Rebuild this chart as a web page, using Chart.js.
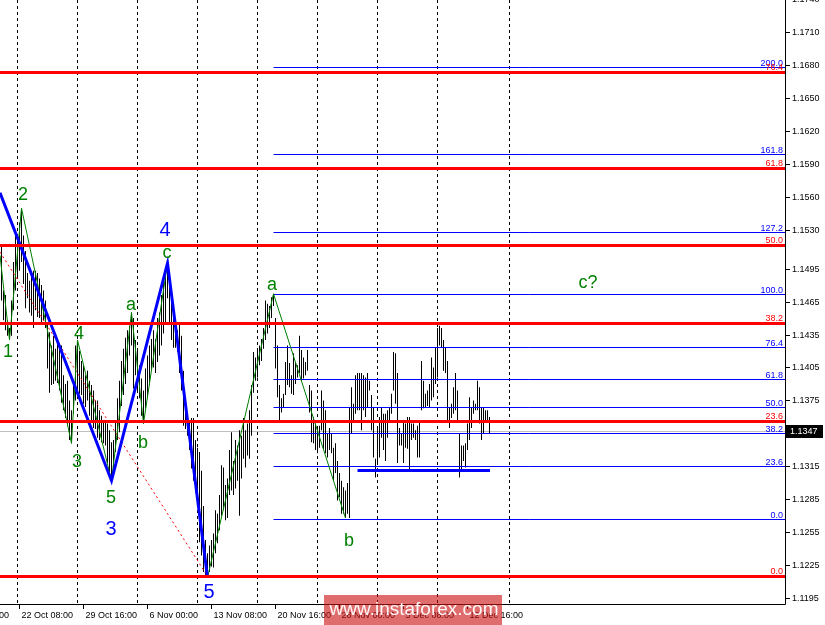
<!DOCTYPE html>
<html><head><meta charset="utf-8">
<script src="https://cdn.jsdelivr.net/npm/chart.js@4.4.0/dist/chart.umd.min.js"></script>
<style>html,body{margin:0;padding:0;background:#fff;overflow:hidden}canvas{display:block}</style>
</head><body>
<canvas id="c" width="825" height="625"></canvas>
<script>
// ---- H4 bars (index = bar number), high / low prices ----
const barHigh = [
1.1516,1.1475,1.1471,1.1448,1.1441,1.1466,1.1501,1.1525,1.1522,1.1537,
1.1550,1.1525,1.1511,1.1491,1.1484,1.1489,1.1493,1.1493,1.1491,1.1486,
1.1480,1.1475,1.1466,1.1446,1.1437,1.1425,1.1434,1.1422,1.1431,1.1425,
1.1425,1.1398,1.1390,1.1393,1.1375,1.1366,1.1390,1.1425,1.1430,1.1420,
1.1411,1.1407,1.1398,1.1402,1.1393,1.1389,1.1384,1.1375,1.1375,1.1366,
1.1361,1.1357,1.1357,1.1354,1.1348,1.1337,1.1339,1.1357,1.1377,1.1393,
1.1411,1.1422,1.1432,1.1439,1.1443,1.1455,1.1450,1.1430,1.1422,1.1407,
1.1395,1.1384,1.1404,1.1416,1.1425,1.1431,1.1439,1.1431,1.1450,1.1455,
1.1471,1.1489,1.1495,1.1500,1.1489,1.1466,1.1450,1.1445,1.1439,1.1446,
1.1434,1.1402,1.1370,1.1361,1.1357,1.1359,1.1359,1.1339,1.1332,1.1328,
1.1311,1.1279,1.1248,1.1236,1.1243,1.1248,1.1254,1.1275,1.1272,1.1289,
1.1316,1.1314,1.1298,1.1304,1.1330,1.1346,1.1320,1.1339,1.1334,1.1348,
1.1343,1.1359,1.1348,1.1354,1.1366,1.1389,1.1419,1.1414,1.1421,1.1425,
1.1431,1.1441,1.1466,1.1463,1.1461,1.1469,1.1472,1.1450,1.1425,1.1389,
1.1377,1.1381,1.1410,1.1425,1.1409,1.1398,1.1418,1.1410,1.1407,1.1434,
1.1421,1.1414,1.1410,1.1421,1.1389,1.1384,1.1360,1.1354,1.1350,1.1352,
1.1384,1.1375,1.1366,1.1345,1.1350,1.1345,1.1332,1.1336,1.1320,1.1309,
1.1302,1.1296,1.1293,1.1300,1.1369,1.1387,1.1372,1.1398,1.1400,1.1400,
1.1400,1.1398,1.1396,1.1400,1.1393,1.1380,1.1369,1.1322,1.1350,1.1360,
1.1369,1.1363,1.1363,1.1366,1.1369,1.1381,1.1419,1.1418,1.1400,1.1350,
1.1345,1.1357,1.1354,1.1360,1.1360,1.1354,1.1354,1.1348,1.1352,1.1357,
1.1411,1.1393,1.1381,1.1384,1.1390,1.1414,1.1405,1.1423,1.1441,1.1443,
1.1441,1.1430,1.1423,1.1411,1.1369,1.1372,1.1387,1.1400,1.1384,1.1345,
1.1334,1.1334,1.1336,1.1354,1.1378,1.1369,1.1375,1.1372,1.1393,1.1387,
1.1369,1.1369,1.1366,1.1366,1.1360];
const barLow = [
1.1466,1.1448,1.1439,1.1434,1.1430,1.1434,1.1457,1.1475,1.1486,1.1493,
1.1501,1.1481,1.1459,1.1468,1.1455,1.1452,1.1441,1.1457,1.1451,1.1450,
1.1446,1.1448,1.1441,1.1404,1.1382,1.1389,1.1390,1.1393,1.1391,1.1384,
1.1373,1.1366,1.1359,1.1352,1.1339,1.1336,1.1363,1.1375,1.1380,1.1381,
1.1380,1.1372,1.1369,1.1375,1.1361,1.1357,1.1350,1.1349,1.1341,1.1339,
1.1337,1.1336,1.1334,1.1318,1.1309,1.1302,1.1311,1.1328,1.1339,1.1346,
1.1370,1.1380,1.1390,1.1400,1.1416,1.1425,1.1386,1.1398,1.1384,1.1377,
1.1361,1.1354,1.1368,1.1377,1.1389,1.1402,1.1405,1.1400,1.1410,1.1416,
1.1425,1.1436,1.1446,1.1468,1.1445,1.1430,1.1423,1.1423,1.1419,1.1400,
1.1384,1.1352,1.1349,1.1343,1.1330,1.1313,1.1302,1.1291,1.1278,1.1246,
1.1234,1.1219,1.1216,1.1214,1.1219,1.1224,1.1223,1.1236,1.1245,1.1257,
1.1270,1.1275,1.1266,1.1268,1.1289,1.1293,1.1289,1.1295,1.1302,1.1270,
1.1304,1.1322,1.1314,1.1325,1.1322,1.1343,1.1382,1.1393,1.1396,1.1407,
1.1411,1.1422,1.1430,1.1436,1.1441,1.1450,1.1461,1.1404,1.1378,1.1357,
1.1364,1.1369,1.1380,1.1389,1.1387,1.1381,1.1380,1.1390,1.1396,1.1400,
1.1393,1.1395,1.1398,1.1402,1.1364,1.1337,1.1336,1.1330,1.1327,1.1332,
1.1348,1.1330,1.1327,1.1323,1.1330,1.1327,1.1302,1.1309,1.1284,1.1287,
1.1272,1.1272,1.1268,1.1272,1.1268,1.1345,1.1357,1.1363,1.1366,1.1366,
1.1348,1.1366,1.1360,1.1369,1.1384,1.1348,1.1323,1.1305,1.1318,1.1323,
1.1341,1.1330,1.1320,1.1341,1.1357,1.1363,1.1384,1.1372,1.1318,1.1334,
1.1334,1.1318,1.1332,1.1331,1.1311,1.1339,1.1341,1.1339,1.1323,1.1323,
1.1366,1.1368,1.1369,1.1370,1.1369,1.1375,1.1378,1.1390,1.1396,1.1425,
1.1423,1.1402,1.1400,1.1357,1.1350,1.1359,1.1363,1.1366,1.1357,1.1305,
1.1311,1.1320,1.1314,1.1330,1.1339,1.1350,1.1363,1.1366,1.1366,1.1354,
1.1339,1.1345,1.1357,1.1357,1.1345];

// ---- axes ----
const xMin = -0.75, xMax = 391.75;            // bar-index range of the window
const yMin = 1.11898, yMax = 1.17394;          // price range of the window
const yTickValues = [1.1740,1.1710,1.1680,1.1650,1.1620,1.1590,1.1560,1.1530,1.1495,1.1465,1.1435,1.1405,1.1375,1.1315,1.1285,1.1255,1.1225,1.1195];
const timeLabels = ['15 Oct 00:00','22 Oct 08:00','29 Oct 16:00','6 Nov 00:00','13 Nov 08:00','20 Nov 16:00','28 Nov 00:00','5 Dec 08:00','12 Dec 16:00'];
const timeLabelBars = [-23,9,41,73,105,137,169,201,233];
const gridBars = [8,38,68,98,128,158,188,218,254];
const currentPrice = 1.1347;

// ---- Fibonacci levels ----
const redFibLevels = [0.0,23.6,38.2,50.0,61.8,76.4];
const redFibPrices = [1.1215,1.1356,1.1445,1.1516,1.1586,1.1673];
const blueFibLevels = [0.0,23.6,38.2,50.0,61.8,76.4,100.0,127.2,161.8,200.0];
const blueFibPrices = [1.1267,1.1315,1.1345,1.1369,1.1394,1.1423,1.1471,1.1528,1.1599,1.1678];
const blueFibStartBar = 136;
const supportBars = [178,244.25];
const supportPrice = 1.1311;

// ---- wave lines ----
const greenWaveBars   = [-0.75,4,10,35,38,55,65,71,83,103,136,172];
const greenWavePrices = [1.1507,1.1430,1.1550,1.1336,1.1430,1.1302,1.1455,1.1354,1.1500,1.1214,1.1472,1.1268];
const blueWaveBars    = [-0.75,55,83,103];
const blueWavePrices  = [1.1564,1.1302,1.1500,1.1214];
const redDotBars      = [-0.75,102];
const redDotPrices    = [1.1510,1.1218];

// ---- wave labels ----
const greenLabels      = ['1','2','3','4','5','a','b','c','a','b','c?'];
const greenLabelBars   = [3.25,10.75,37.75,38.75,54.75,64.75,70.75,82.75,135.25,173.75,293.25];
const greenLabelPrices = [1.1419,1.1562,1.1319,1.1435,1.1286,1.1462,1.1336,1.1509,1.1480,1.1247,1.1482];
const blueLabels       = ['4','3','5'];
const blueLabelBars    = [81.75,54.75,103.75];
const blueLabelPrices  = [1.1530,1.1258,1.1200];

const watermark = 'www.instaforex.com';

// ---- build datasets ----
const pts = (xs, ys) => xs.map((v,i)=>({x:v, y:ys[i]}));
const hline = (x0, x1, p, color, w, order) => ({type:'line', data: pts([x0,x1],[p,p]), borderColor:color, borderWidth:w, pointRadius:0, order, snapPrice:p});
const datasets = [];
datasets.push({type:'bar', data: barHigh.map((h,i)=>({x:i, y:[barLow[i], h]})), backgroundColor:'#000', borderWidth:0, barThickness:1, inflateAmount:0, grouped:false, order:20});
datasets.push(hline(xMin, xMax, currentPrice, '#c0c0c0', 1, 25));
blueFibPrices.forEach(p => datasets.push(hline(blueFibStartBar, xMax, p, '#0000ff', 1, 10)));
datasets.push(hline(supportBars[0], supportBars[1], supportPrice, '#0000ff', 3, 5));
datasets.push({type:'line', data: pts(redDotBars, redDotPrices), borderColor:'#ff0000', borderWidth:1, borderDash:[2,3], pointRadius:0, order:6});
datasets.push({type:'line', data: pts(greenWaveBars, greenWavePrices), borderColor:'#008000', borderWidth:1, pointRadius:0, tension:0, order:4});
datasets.push({type:'line', data: pts(blueWaveBars, blueWavePrices), borderColor:'#0000ff', borderWidth:3, pointRadius:0, tension:0, order:3});
redFibPrices.forEach(p => datasets.push(hline(xMin, xMax, p, '#ff0000', 3, 1)));

// keep horizontal level lines on whole pixels (drawn by the library, only shifted < 1px)
const snap = {
  id:'snap',
  beforeDatasetDraw(chart, args){
    const ds = chart.data.datasets[args.index];
    if (ds.snapPrice === undefined) return;
    const py = chart.scales.y.getPixelForValue(ds.snapPrice);
    chart.ctx.save();
    chart.ctx.translate(0, Math.floor(py) + 0.5 - py);
  },
  afterDatasetDraw(chart, args){
    const ds = chart.data.datasets[args.index];
    if (ds.snapPrice === undefined) return;
    chart.ctx.restore();
  }
};

const FONT = '"Liberation Sans", Arial, sans-serif';
const overlay = {
  id:'overlay',
  beforeDatasetsDraw(chart){
    const {ctx, chartArea:a, scales:{x}} = chart;
    ctx.save();
    ctx.fillStyle='#fff'; ctx.fillRect(0,0,chart.width,chart.height);
    ctx.strokeStyle='#000'; ctx.lineWidth=1; ctx.setLineDash([3,3]);
    gridBars.forEach(g=>{ const p=Math.floor(x.getPixelForValue(g))+0.5; ctx.beginPath(); ctx.moveTo(p,a.top); ctx.lineTo(p,a.bottom); ctx.stroke(); });
    ctx.restore();
  },
  afterDatasetsDraw(chart){
    const {ctx, chartArea:a, scales:{x,y}} = chart;
    ctx.save();
    // fib level labels
    ctx.font = '9px '+FONT; ctx.textAlign='right'; ctx.textBaseline='alphabetic';
    ctx.fillStyle='#0000ff';
    blueFibPrices.forEach((p,i)=>ctx.fillText(blueFibLevels[i].toFixed(1), a.right-2, Math.floor(y.getPixelForValue(p))-1));
    ctx.fillStyle='#ff0000';
    redFibPrices.forEach((p,i)=>ctx.fillText(redFibLevels[i].toFixed(1), a.right-2, Math.floor(y.getPixelForValue(p))-2));
    // wave labels
    ctx.textAlign='center'; ctx.textBaseline='middle';
    ctx.font='18px '+FONT; ctx.fillStyle='#008000';
    greenLabels.forEach((t,i)=>ctx.fillText(t, x.getPixelForValue(greenLabelBars[i]), y.getPixelForValue(greenLabelPrices[i])));
    ctx.font='20px '+FONT; ctx.fillStyle='#0000ff';
    blueLabels.forEach((t,i)=>ctx.fillText(t, x.getPixelForValue(blueLabelBars[i]), y.getPixelForValue(blueLabelPrices[i])));
    // axes frame
    ctx.fillStyle='#fff';
    ctx.fillRect(a.right+1,0,chart.width-a.right-1,chart.height);
    ctx.fillRect(0,a.bottom+1,chart.width,chart.height-a.bottom-1);
    ctx.strokeStyle='#000'; ctx.lineWidth=1; ctx.setLineDash([]);
    ctx.beginPath(); ctx.moveTo(a.right+0.5,0); ctx.lineTo(a.right+0.5,a.bottom+0.5); ctx.lineTo(0,a.bottom+0.5); ctx.stroke();
    // y ticks
    ctx.font='9px '+FONT; ctx.fillStyle='#000'; ctx.textAlign='left'; ctx.textBaseline='middle';
    yTickValues.forEach(v=>{ const py=Math.round(y.getPixelForValue(v))+0.5; ctx.beginPath(); ctx.moveTo(a.right+1,py); ctx.lineTo(a.right+5,py); ctx.stroke(); ctx.fillText(v.toFixed(4), a.right+7, py); });
    // current price box
    const cp = Math.round(y.getPixelForValue(currentPrice));
    ctx.fillStyle='#000'; ctx.fillRect(a.right+1, cp-6, 37, 13);
    ctx.fillStyle='#fff'; ctx.fillText(currentPrice.toFixed(4), a.right+5, cp+0.5);
    // x ticks
    ctx.fillStyle='#000'; ctx.font='9px '+FONT; ctx.textBaseline='alphabetic';
    timeLabels.forEach((t,i)=>{ const px=Math.floor(x.getPixelForValue(timeLabelBars[i]))+0.5; ctx.beginPath(); ctx.moveTo(px,a.bottom+1); ctx.lineTo(px,a.bottom+5); ctx.stroke(); ctx.fillText(t, px+2, a.bottom+14); });
    // watermark
    ctx.fillStyle='rgba(205,20,20,0.62)'; ctx.fillRect(324,595,178,30);
    ctx.fillStyle='rgba(255,255,255,0.95)'; ctx.font='19px '+FONT; ctx.textAlign='center'; ctx.textBaseline='middle';
    ctx.fillText(watermark, 414, 610);
    ctx.restore();
  }
};

new Chart(document.getElementById('c'), {
  type:'bar',
  data:{datasets},
  options:{
    responsive:false, animation:false, events:[],
    layout:{padding:{left:0,top:0,right:40,bottom:21}},
    plugins:{legend:{display:false}, tooltip:{enabled:false}},
    scales:{
      x:{type:'linear', min:xMin, max:xMax, display:false, offset:false},
      y:{type:'linear', min:yMin, max:yMax, display:false}
    }
  },
  plugins:[snap, overlay]
});
</script>
</body></html>
